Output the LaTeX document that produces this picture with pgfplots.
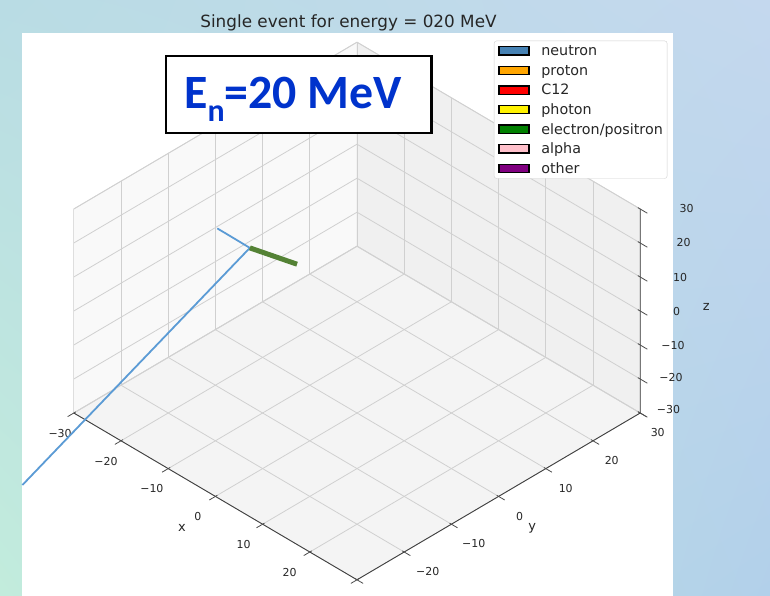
\documentclass[border=0pt]{standalone}
\usepackage{pgfplots}
\pgfplotsset{compat=1.18}
\usetikzlibrary{shadings}
\pgfdeclarelayer{bg}
\pgfsetlayers{bg,main}
\usepackage{fontspec}
\setmainfont{DejaVu Sans}
\newfontfamily\calibri{Carlito}
\definecolor{bgUL}{RGB}{185,220,228}
\definecolor{bgLL}{RGB}{194,236,220}
\definecolor{bgUR}{RGB}{196,216,238}
\definecolor{bgLR}{RGB}{178,208,234}
\definecolor{trackblue}{RGB}{91,155,213}
\definecolor{trackgreen}{RGB}{84,130,53}
\definecolor{steelblue}{RGB}{70,130,180}
\definecolor{mplorange}{RGB}{255,165,0}
\definecolor{mplgreen}{RGB}{0,128,0}
\definecolor{mplpink}{RGB}{255,192,203}
\definecolor{mplpurple}{RGB}{128,0,128}
\definecolor{boxblue}{RGB}{0,51,204}
\definecolor{gridgray}{RGB}{208,208,208}
\definecolor{paneX}{RGB}{249,249,249}
\definecolor{paneY}{RGB}{240,240,240}
\definecolor{paneZ}{RGB}{244,244,244}
\definecolor{paneedge}{RGB}{222,222,222}
\definecolor{textgray}{RGB}{38,38,38}
\newcommand{\sh}[2]{\makebox[0pt]{\hspace*{#1}#2}}

\begin{document}
\begin{tikzpicture}[x=1bp,y=1bp]
\begin{axis}[
  x={(4.72bp,-2.78bp)}, y={(4.72bp,2.78bp)}, z={(0bp,3.4bp)},
  xmin=-30,xmax=30,ymin=-30,ymax=30,zmin=-30,zmax=30,
  xtick={-30,-20,...,20}, ytick={-20,-10,...,30}, ztick={-30,-20,...,30},
  xticklabels={\sh{0bp}{−30},\sh{-2.6bp}{−20},\sh{-5.2bp}{−10},\sh{-7.8bp}{0},\sh{-10.4bp}{10},\sh{-13bp}{20}},
  yticklabels={\sh{-2.4bp}{−20},\sh{-4.8bp}{−10},\sh{-7.2bp}{0},\sh{-9.6bp}{10},\sh{-12bp}{20},\sh{-14.4bp}{30}},
  zticklabels={},
  xtick style={draw=none}, ytick style={draw=none}, ztick style={draw=none},
  grid=major,
  major grid style={draw=gridgray, line width=0.8bp},
  axis line style={draw=paneedge, line width=0.8bp},
  major tick length=7bp,
  tick align=center,
  clip=false,
  tick label style={font=\fontsize{11}{13}\selectfont, text=textgray},
  xticklabel style={anchor=center, xshift=-10.7bp, yshift=-18.5bp},
  yticklabel style={anchor=center, xshift=21.7bp, yshift=-18bp},
  xlabel={x}, ylabel={y}, zlabel={z},
  every axis x label/.style={at={(axis cs:2.1,-39.2,-30)}, anchor=center, font=\fontsize{13}{15}\selectfont, text=textgray},
  every axis y label/.style={at={(axis cs:39.2,-2.1,-30)}, anchor=center, font=\fontsize{13}{15}\selectfont, text=textgray},
  every axis z label/.style={at={(axis cs:37,37,1.2)}, anchor=center, font=\fontsize{13}{15}\selectfont, text=textgray},
  legend style={at={(axis cs:2.6,63.14,30)}, anchor=north east, draw=black!18, rounded corners=2.5bp, fill=white,
    font=\fontsize{14.35}{16}\selectfont, text=textgray, inner xsep=4.3bp, inner ysep=3bp, row sep=5.6bp,
    nodes={inner sep=0bp, text height=11.85bp, text depth=2.15bp},
    /tikz/every odd column/.append style={column sep=11.6bp}},
  legend cell align=left,
  legend image code/.code={\filldraw[#1, sharp corners] (0bp,-4.15bp) rectangle (30bp,4.15bp);},
]
\coordinate (O) at (axis cs:0,0,0);
\draw[black!75, line width=0.9bp] (axis cs:-30,-30,-30) -- (axis cs:30,-30,-30) -- (axis cs:30,30,-30) -- (axis cs:30,30,30);
% neutron track: incoming, vertex, scattered
\addplot3[forget plot, draw=trackblue, line width=1.8bp, no marks] coordinates {(-28.6,-42.3,-40) (-22.7,0.0,0.0) (-26.6,-3.0,5.0)};
% electron/positron track
\addplot3[forget plot, draw=trackgreen, line width=5bp, no marks] coordinates {(-22.7,0.0,0.0) (-16.6,3.9,-3.0)};
\addlegendimage{fill=steelblue, draw=black, line width=1.3bp}
\addlegendentry{neutron}
\addlegendimage{fill=mplorange, draw=black, line width=1.3bp}
\addlegendentry{proton}
\addlegendimage{fill=red, draw=black, line width=1.3bp}
\addlegendentry{C12}
\addlegendimage{fill=yellow, draw=black, line width=1.3bp}
\addlegendentry{photon}
\addlegendimage{fill=mplgreen, draw=black, line width=1.3bp}
\addlegendentry{electron/positron}
\addlegendimage{fill=mplpink, draw=black, line width=1.3bp}
\addlegendentry{alpha}
\addlegendimage{fill=mplpurple, draw=black, line width=1.3bp}
\addlegendentry{other}
\end{axis}
\begin{scope}[shift={(O)}, xshift=-357bp, yshift=-285bp]
\begin{pgfonlayer}{bg}
\shade[upper left=bgUL, upper right=bgUR, lower left=bgLL, lower right=bgLR] (0,0) rectangle (770,596);
\fill[white] (22,0) rectangle (673,563);
\filldraw[fill=paneX, draw=paneedge] (73.8,183) -- (357,349.8) -- (357,553.8) -- (73.8,387) -- cycle;
\filldraw[fill=paneY, draw=paneedge] (357,349.8) -- (640.2,183) -- (640.2,387) -- (357,553.8) -- cycle;
\filldraw[fill=paneZ, draw=paneedge] (73.8,183) -- (357,16.2) -- (640.2,183) -- (357,349.8) -- cycle;
\end{pgfonlayer}
\node[anchor=base, text=textgray, font=\fontsize{16.9}{20}\selectfont, inner sep=0pt] at (348.5,568.3) {Single event for energy = 020 MeV};
% tick marks on the x, y and z axis lines
\foreach \i in {0,...,6} {\draw[black!70, line width=0.8bp] ({73.8+47.2*\i+1.9},{183-27.8*\i+1.1}) -- ({73.8+47.2*\i-6.1},{183-27.8*\i-3.6});}
\foreach \i in {0,...,6} {\draw[black!70, line width=0.8bp] ({357+47.2*\i-1.9},{16.2+27.8*\i+1.1}) -- ({357+47.2*\i+6.1},{16.2+27.8*\i-3.6});}
\foreach \k in {0,...,6} {\draw[black!70, line width=0.8bp] (637.8,{184.4+34*\k}) -- (647.3,{178.8+34*\k});}
\begin{scope}[every node/.style={anchor=center, inner sep=0pt, text=textgray, font=\fontsize{11}{13}\selectfont}]
\node at (668.5,186) {−30};
\node at (671,218) {−20};
\node at (673,250) {−10};
\node at (676.5,284) {0};
\node at (680,318) {10};
\node at (683.5,353) {20};
\node at (686.5,387) {30};
\end{scope}
\filldraw[fill=white, draw=black, line width=2.3bp] (166.2,539.8) rectangle (431.5,463.2);
\node[anchor=base west, inner sep=0pt, text=boxblue] at (184,487) {\calibri\bfseries\fontsize{48}{52}\selectfont E\raisebox{-12.8bp}{\fontsize{32}{32}\selectfont n}=20 MeV};
\end{scope}
\end{tikzpicture}
\end{document}
